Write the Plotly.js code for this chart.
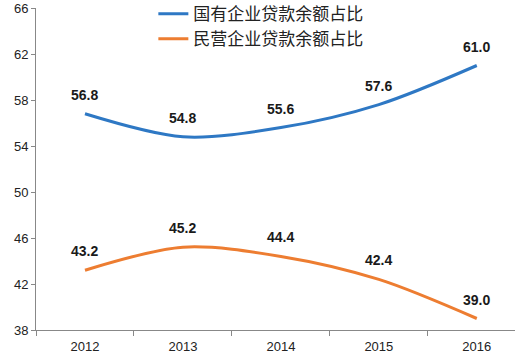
<!DOCTYPE html>
<html><head><meta charset="utf-8">
<script src="https://cdn.plot.ly/plotly-3.0.1.min.js"></script>
<style>html,body{margin:0;padding:0;background:#fff;}#chart{width:515px;height:363px;}</style>
</head><body><div id="chart"></div>
<script>
const years = ['2012','2013','2014','2015','2016'];
const stateShare = [56.8, 54.8, 55.6, 57.6, 61.0];
const privateShare = [43.2, 45.2, 44.4, 42.4, 39.0];
const seriesNames = ['国有企业贷款余额占比', '民营企业贷款余额占比'];
const yTicks = [38, 42, 46, 50, 54, 58, 62, 66];

const colors = ['#2E78C4', '#ED7D31'];
const series = [stateShare, privateShare];

const traces = series.map((vals, i) => ({
  x: years, y: vals, type: 'scatter', mode: 'lines', name: seriesNames[i],
  line: {color: colors[i], width: 3, shape: 'spline', smoothing: 0.9}
}));

const annotations = [];
series.forEach(vals => vals.forEach((v, j) => annotations.push({
  x: j, y: v, xref: 'x', yref: 'y', text: '<b>' + v.toFixed(1) + '</b>', showarrow: false,
  yshift: 19, font: {family: 'Liberation Sans, Arial, sans-serif', size: 14, color: '#1a1a1a'}
})));

const layout = {
  width: 515, height: 363,
  margin: {l: 36, r: 0, t: 8, b: 33, autoexpand: false},
  paper_bgcolor: '#fff', plot_bgcolor: '#fff',
  font: {family: 'Liberation Sans, Arial, sans-serif', size: 13, color: '#222'},
  showlegend: true,
  legend: {x: 0.245, y: 1.037, xanchor: 'left', yanchor: 'top', bgcolor: 'rgba(0,0,0,0)',
    font: {family: 'Noto Sans CJK SC, sans-serif', size: 17, color: '#222'},
    tracegroupgap: 0, itemwidth: 30},
  xaxis: {type: 'category', range: [-0.5, 4.39], showgrid: false, zeroline: false,
    showline: true, linecolor: '#888', linewidth: 1, ticks: 'outside', tickson: 'boundaries',
    ticklen: 5, tickcolor: '#888', tickfont: {size: 13, color: '#222'}, ticklabelstandoff: 4, fixedrange: true},
  yaxis: {range: [38, 66], tickvals: yTicks, showgrid: false, zeroline: false,
    showline: true, linecolor: '#888', linewidth: 1, ticks: 'outside', ticklen: 4, tickcolor: '#888',
    tickfont: {size: 13, color: '#222'}, fixedrange: true},
  annotations: annotations
};
Plotly.newPlot('chart', traces, layout, {staticPlot: true});
</script></body></html>
